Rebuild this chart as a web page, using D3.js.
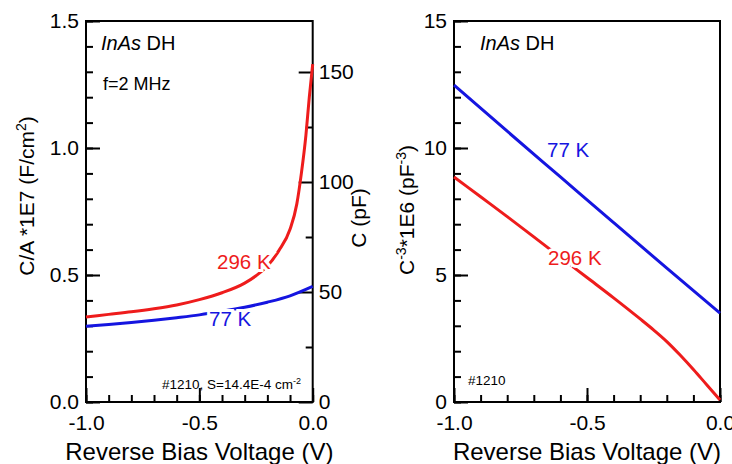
<!DOCTYPE html>
<html>
<head>
<meta charset="utf-8">
<script src="https://cdn.jsdelivr.net/npm/d3@7"></script>
<style>
  body { margin: 0; background: #fff; }
  text { font-family: "Liberation Sans", Arial, sans-serif; }
  .domain { display: none; }
</style>
</head>
<body>
<script>
var w = 732;
var h = 464;

// left panel: C/A*1E7 (F/cm^2) vs reverse bias
var voltsL = [-1.0, -0.9, -0.8, -0.7, -0.6, -0.5, -0.4, -0.3, -0.25, -0.2, -0.15, -0.1, -0.07, -0.05, -0.03, -0.015, 0.0];
var ca296 = [0.335, 0.345, 0.355, 0.367, 0.382, 0.403, 0.43, 0.468, 0.497, 0.535, 0.595, 0.68, 0.78, 0.9, 1.05, 1.2, 1.33];
var volts77 = [-1.0, -0.9, -0.8, -0.7, -0.6, -0.5, -0.4, -0.3, -0.2, -0.1, 0.0];
var ca77 = [0.298, 0.305, 0.313, 0.322, 0.332, 0.343, 0.357, 0.373, 0.393, 0.418, 0.455];

// right panel: C^-3 * 1E6 (pF^-3)
var voltsR = [-1.0, -0.9, -0.8, -0.7, -0.6, -0.5, -0.4, -0.3, -0.25, -0.2, -0.15, -0.1, -0.05, 0.0];
var cm3_296 = [8.86, 8.08, 7.3, 6.5, 5.7, 4.9, 4.1, 3.27, 2.84, 2.38, 1.85, 1.28, 0.68, 0.08];
var voltsR77 = [-1.0, -0.8, -0.6, -0.4, -0.2, 0.0];
var cm3_77 = [12.48, 10.66, 8.86, 7.06, 5.27, 3.5];

var xTicks = [-1.0, -0.5, 0.0];
var red = "#ee1c1c";
var blue = "#1515e0";

var svg = d3.select("body").append("svg")
  .attr("width", w)
  .attr("height", h);

var yTop = 21, yBot = 402;

// scales
var xL = d3.scaleLinear().domain([-1, 0]).range([86, 312.7]);
var yL = d3.scaleLinear().domain([0, 1.5]).range([yBot, yTop]);
var yC = d3.scaleLinear().domain([0, (yBot - yTop) / 2.2]).range([yBot, yTop]);
var xR = d3.scaleLinear().domain([-1, 0]).range([454, 720]);
var yR = d3.scaleLinear().domain([0, 15]).range([yBot, yTop]);

function fmt1(d) { return d3.format(".1f")(d).replace("\u2212", "-"); }

function range(a, b, s) {
  return d3.range(Math.round(a / s), Math.round(b / s) + 1).map(function(i) { return +(i * s).toFixed(3); });
}

function minorAxis(g, axis) {
  g.call(axis);
  g.selectAll("text").remove();
  g.selectAll("line").attr("stroke-width", 2);
}

function styleAxis(g, size) {
  g.selectAll("text").attr("font-size", size).attr("fill", "#000");
  g.selectAll("line").attr("stroke-width", 2);
}

function panel(x, y, yMajor, yMinor, yFmt) {
  // minor ticks
  svg.append("g").attr("transform", "translate(0," + yBot + ")")
    .call(minorAxis, d3.axisBottom(x).tickValues(range(-1, 0, 0.1)).tickSizeInner(-7).tickSizeOuter(0));
  svg.append("g").attr("transform", "translate(" + x.range()[0] + ",0)")
    .call(minorAxis, d3.axisLeft(y).tickValues(yMinor).tickSizeInner(-7).tickSizeOuter(0));
  // major ticks
  svg.append("g").attr("transform", "translate(0," + yBot + ")")
    .call(d3.axisBottom(x).tickValues(xTicks).tickFormat(fmt1).tickSizeInner(-14).tickSizeOuter(0).tickPadding(13))
    .call(styleAxis, 21);
  svg.append("g").attr("transform", "translate(" + x.range()[0] + ",0)")
    .call(d3.axisLeft(y).tickValues(yMajor).tickFormat(yFmt).tickSizeInner(-14).tickSizeOuter(0).tickPadding(7))
    .call(styleAxis, 21);
  // frame
  svg.append("rect")
    .attr("x", x.range()[0]).attr("y", yTop)
    .attr("width", x.range()[1] - x.range()[0]).attr("height", yBot - yTop)
    .attr("fill", "none").attr("stroke", "#000").attr("stroke-width", 2);
  // x label
  svg.append("text")
    .attr("x", (x.range()[0] + x.range()[1]) / 2).attr("y", 460)
    .attr("text-anchor", "middle").attr("font-size", 24)
    .text("Reverse Bias Voltage (V)");
}

function curve(x, y, xs, ys, color) {
  var line = d3.line().x(function(d, i) { return x(xs[i]); }).y(function(d) { return y(d); }).curve(d3.curveMonotoneX);
  svg.append("path").datum(ys)
    .attr("d", line)
    .attr("fill", "none").attr("stroke", color).attr("stroke-width", 3);
}

function label(px, py, txt, color) {
  svg.append("text").attr("x", px).attr("y", py)
    .attr("font-size", 20.5).attr("fill", color)
    .attr("stroke", "#fff").attr("stroke-width", 6).attr("paint-order", "stroke")
    .text(txt);
}

function title(px, py) {
  var t = svg.append("text").attr("x", px).attr("y", py).attr("font-size", 20);
  t.append("tspan").attr("font-style", "italic").text("InAs");
  t.append("tspan").text(" DH");
}

// ---------- left panel ----------
panel(xL, yL, [0, 0.5, 1.0, 1.5], range(0, 1.5, 0.1), fmt1);

// right axis C (pF)
svg.append("g").attr("transform", "translate(312.7,0)")
  .call(minorAxis, d3.axisRight(yC).tickValues([25, 75, 125]).tickSizeInner(-7).tickSizeOuter(0));
svg.append("g").attr("transform", "translate(312.7,0)")
  .call(d3.axisRight(yC).tickValues([0, 50, 100, 150]).tickSizeInner(-14).tickSizeOuter(0).tickPadding(6))
  .call(styleAxis, 21);

curve(xL, yL, voltsL, ca296, red);
curve(xL, yL, volts77, ca77, blue);
label(217, 269, "296 K", red);
label(209, 326, "77 K", blue);

title(101, 50);
svg.append("text").attr("x", 103).attr("y", 90).attr("font-size", 18).text("f=2 MHz");
var s = svg.append("text").attr("x", 162).attr("y", 389).attr("font-size", 13.5);
s.append("tspan").text("#1210, S=14.4E-4 cm");
s.append("tspan").attr("baseline-shift", "super").attr("font-size", 9).text("-2");

svg.append("text")
  .attr("transform", "translate(34,196) rotate(-90)")
  .attr("text-anchor", "middle").attr("font-size", 21)
  .call(function(t) {
    t.append("tspan").text("C/A *1E7 (F/cm");
    t.append("tspan").attr("baseline-shift", "super").attr("font-size", 14).text("2");
    t.append("tspan").text(")");
  });
svg.append("text")
  .attr("transform", "translate(366,218) rotate(-90)")
  .attr("text-anchor", "middle").attr("font-size", 21)
  .text("C (pF)");

// ---------- right panel ----------
panel(xR, yR, [0, 5, 10, 15], range(0, 15, 1), d3.format("d"));

curve(xR, yR, voltsR, cm3_296, red);
curve(xR, yR, voltsR77, cm3_77, blue);
label(547, 157, "77 K", blue);
label(548, 265, "296 K", red);

title(480, 50);
svg.append("text").attr("x", 468).attr("y", 385).attr("font-size", 13.5).text("#1210");

svg.append("text")
  .attr("transform", "translate(414,210) rotate(-90)")
  .attr("text-anchor", "middle").attr("font-size", 21)
  .call(function(t) {
    t.append("tspan").text("C");
    t.append("tspan").attr("baseline-shift", "super").attr("font-size", 14).text("-3");
    t.append("tspan").text("*1E6 (pF");
    t.append("tspan").attr("baseline-shift", "super").attr("font-size", 14).text("-3");
    t.append("tspan").text(")");
  });
</script>
</body>
</html>
